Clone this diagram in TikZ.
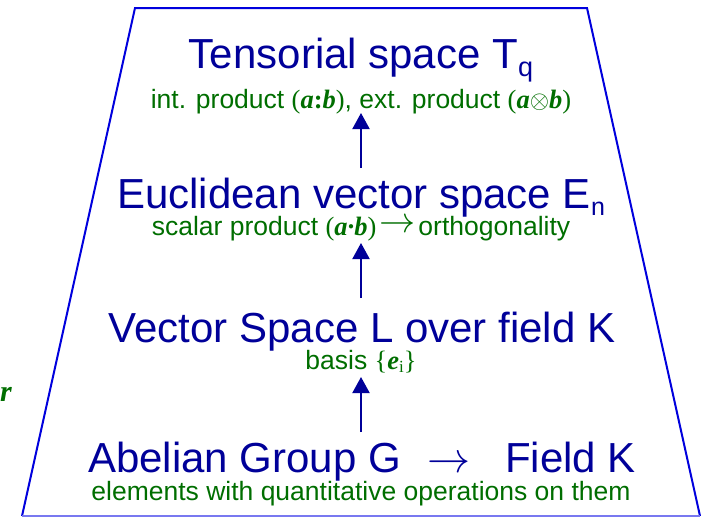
\documentclass[tikz,border=0pt]{standalone}
\usepackage{fontspec}
\usepackage{graphicx}
\setmainfont{Liberation Sans}
\newfontfamily\tms{Liberation Serif}
\usetikzlibrary{arrows.meta}
\definecolor{navy}{HTML}{000099}
\definecolor{dgreen}{HTML}{006E00}
\definecolor{edgeblue}{HTML}{0000DD}
\definecolor{lightedge}{HTML}{7878F0}
\newcommand{\bv}[1]{{\tms\bfseries\itshape #1}}
\begin{document}
\begin{tikzpicture}[x=1pt,y=1pt,
  title/.style={inner sep=0pt, anchor=base, text=navy, font=\fontsize{42}{48}\selectfont},
  note/.style={inner sep=0pt, anchor=base, text=dgreen, font=\fontsize{26.5}{30}\selectfont},
  uparrow/.style={draw=navy, line width=2pt, -{Triangle[width=17pt,length=16pt]}}]
\useasboundingbox (0,0) rectangle (702,-517);
\draw[edgeblue, line width=2pt] (22,-516) -- (135,-8) -- (587,-8) -- (700,-516);
\draw[lightedge, line width=1.5pt] (22,-516) -- (700,-516);

\node[title] (t1) at (361,-68) {Tensorial space T\raisebox{-8pt}{\fontsize{27}{30}\selectfont q}};
\node[note] (g1) at (361,-108) {int. product {\tms(}\bv{a}{\tms\bfseries:}\bv{b}{\tms)}, ext. product {\tms(}\bv{a}$\otimes$\bv{b}{\tms)}};

\node[title] (t2) at (361,-208) {Euclidean vector space E\raisebox{-7pt}{\fontsize{25}{30}\selectfont n}};
\node[note] (g2) at (361,-235) {scalar product {\tms(}\bv{a\textperiodcentered b}{\tms)}\hspace{3pt}\raisebox{3pt}{\scalebox{1.45}{$\rightarrow$}}\hspace{3pt}orthogonality};

\node[title] (t3) at (362,-342) {Vector Space L over field K};
\node[note] (g3) at (361,-369) {basis {\tms\{}\bv{e}{\tms\fontsize{17}{20}\selectfont\raisebox{-3pt}{i}}{\tms\}}};

\node[title] (t4) at (362,-472) {Abelian Group G\hspace{26pt}\scalebox{1.73}{$\rightarrow$}\hspace{35pt}Field K};
\node[note] (g4) at (361,-500) {elements with quantitative operations on them};

\node[inner sep=0pt, anchor=base, text=dgreen, font=\tms\bfseries\itshape\fontsize{30}{30}\selectfont] (r) at (6,-401) {r};

\draw[uparrow, shorten <=40pt, shorten >=5pt] (t2.base) -- (t2.base |- g1.base);
\draw[uparrow, shorten <=44pt, shorten >=8pt] (t3.base -| t2.base) -- (t2.base |- g2.base);
\draw[uparrow, shorten <=40pt, shorten >=8pt] (t4.base -| t2.base) -- (t2.base |- g3.base);
\end{tikzpicture}
\end{document}
